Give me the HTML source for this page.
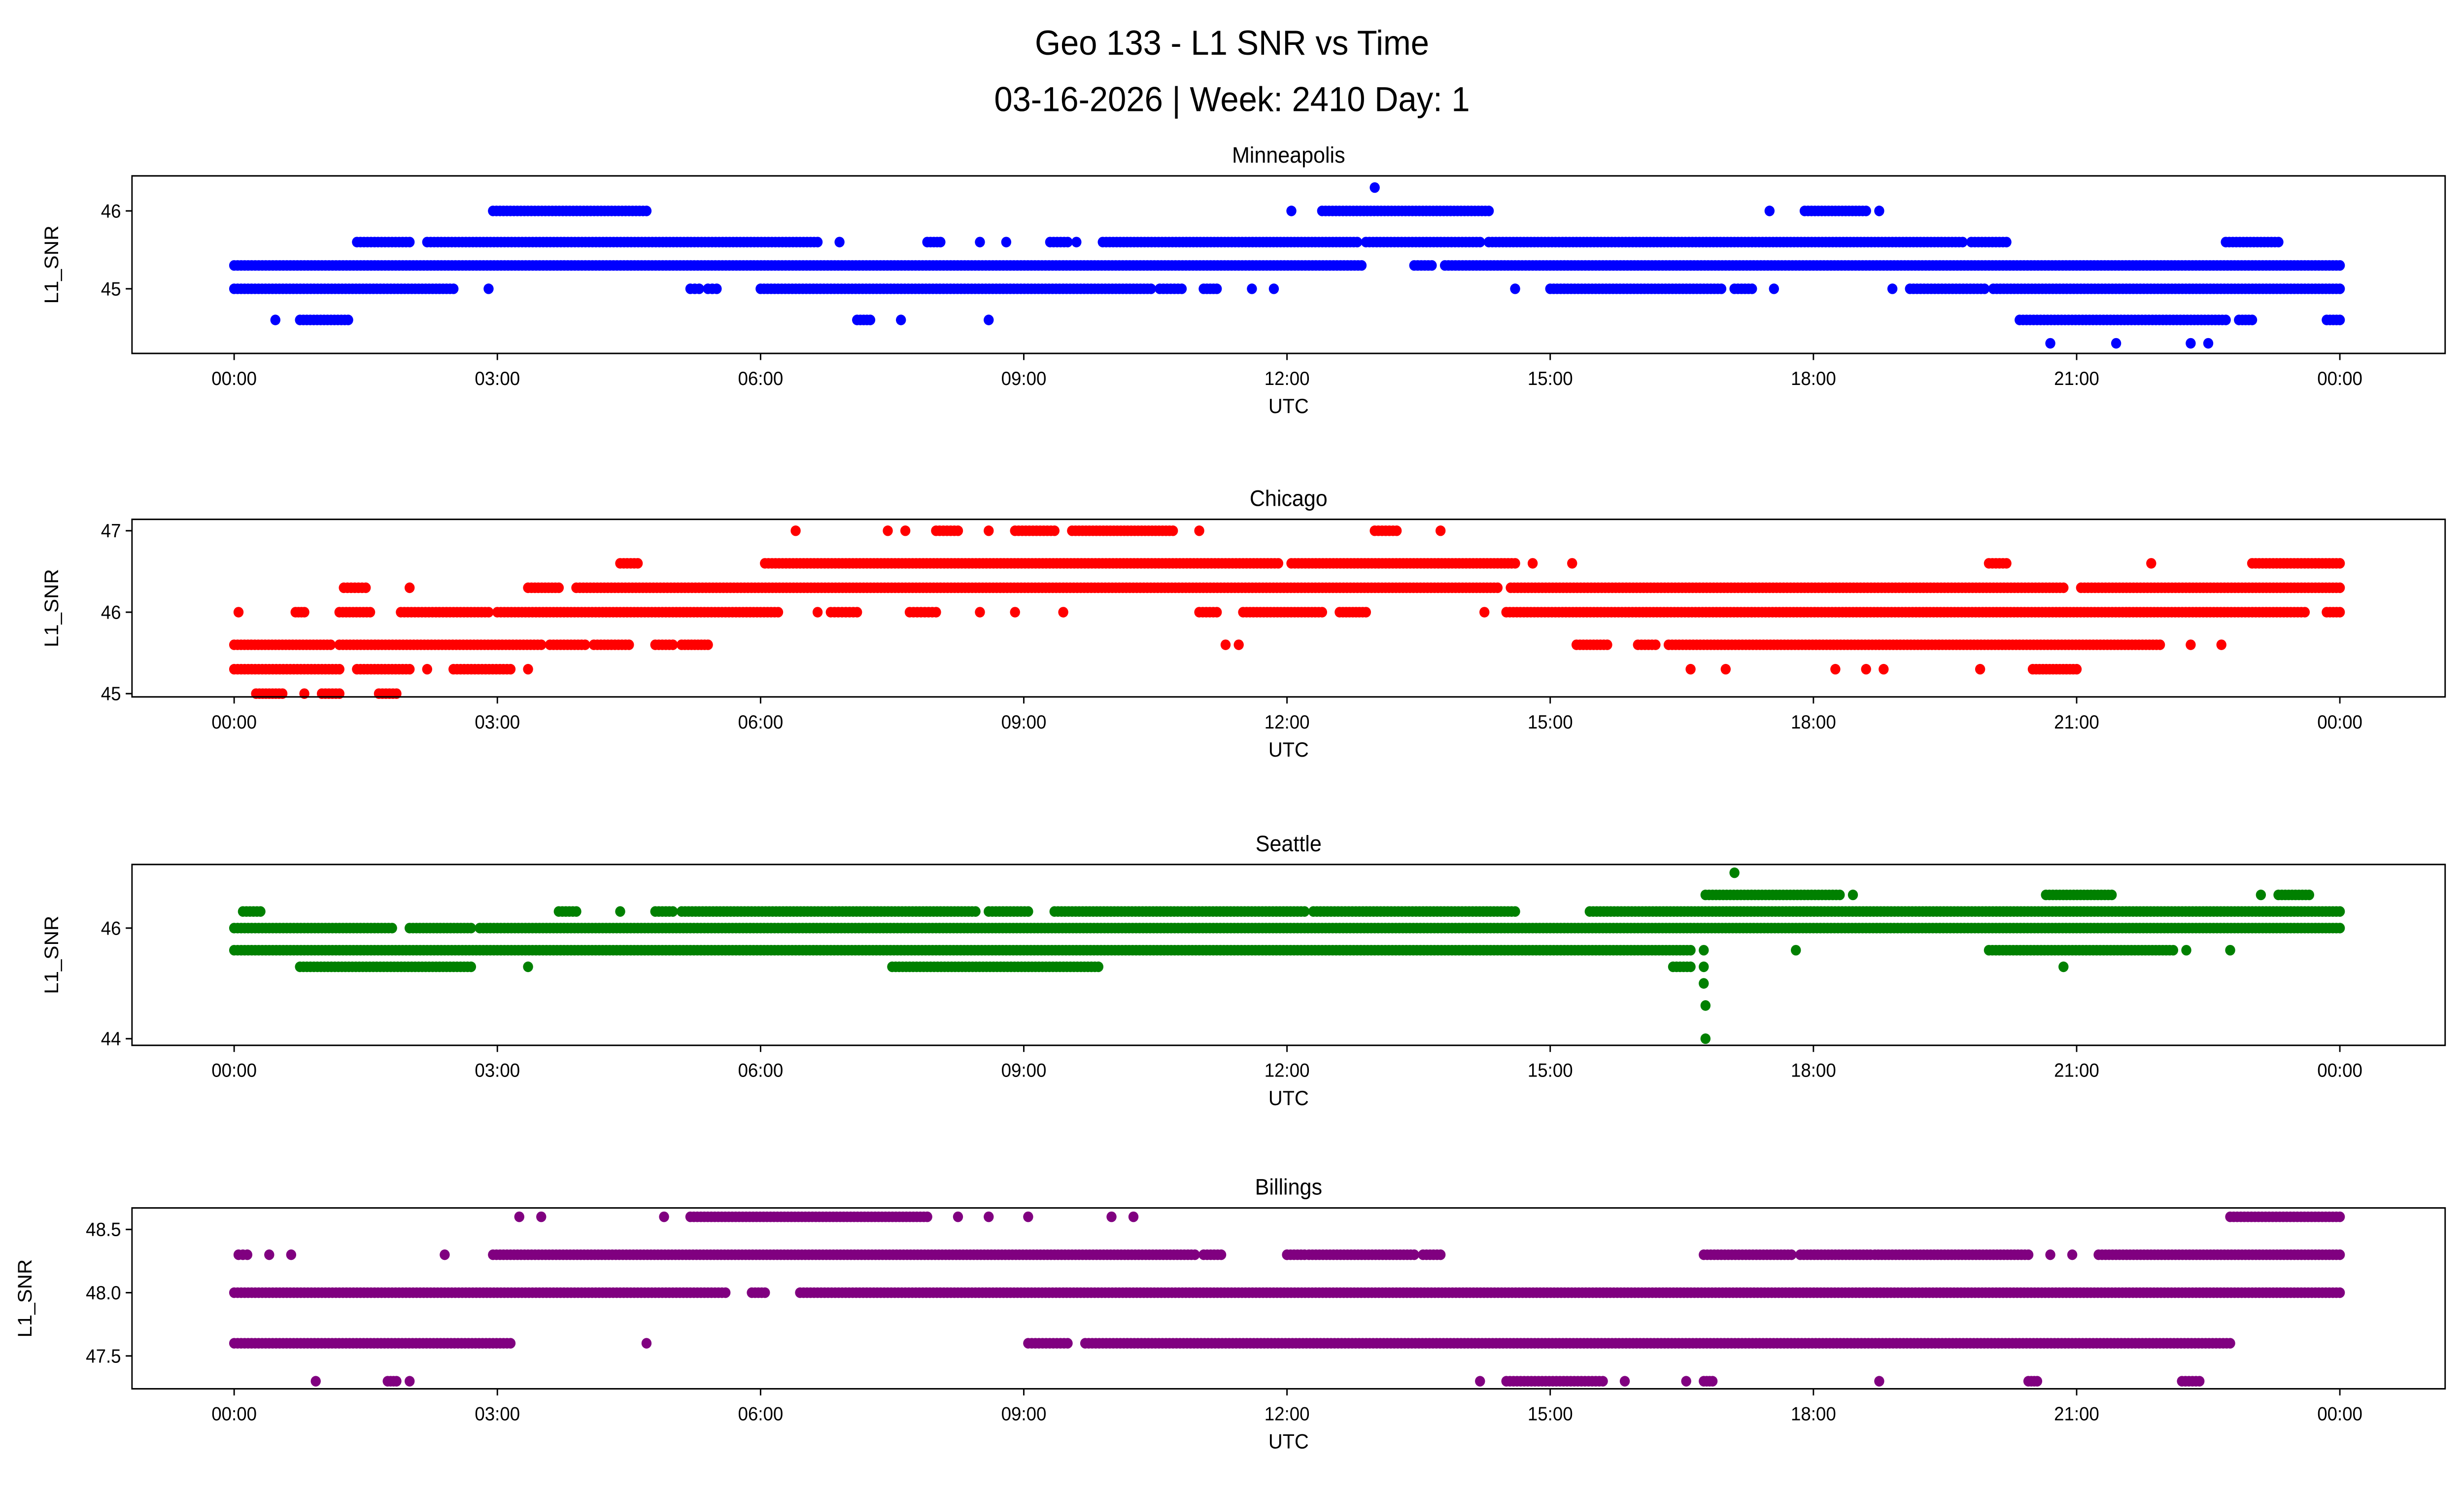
<!DOCTYPE html>
<html><head><meta charset="utf-8"><style>
html,body{margin:0;padding:0;background:#fff;overflow:hidden;width:100%;height:100%;}
svg{display:block;width:100vw;height:100vh;}
text{font-family:"Liberation Sans","DejaVu Sans",sans-serif;fill:#000;}
</style></head><body>
<svg id="chart" xmlns="http://www.w3.org/2000/svg" viewBox="0 0 1568 901" preserveAspectRatio="none">
<rect width="1568" height="901" fill="#fff"/>
<text x="784" y="33" font-size="21" text-anchor="middle">Geo 133 - L1 SNR vs Time</text>
<text x="784" y="67" font-size="21" text-anchor="middle">03-16-2026 | Week: 2410 Day: 1</text>
<g id="panels"></g>
</svg>
<script>
// Shared x tick labels (hours)
const xTickHours = [0,3,6,9,12,15,18,21,24];
const xTickLabels = ["00:00","03:00","06:00","09:00","12:00","15:00","18:00","21:00","00:00"];

// Minneapolis: segments [level, startHour, endHour], points [hour, level]
const minneapolisSegments = [[45.6,1.4,2.0],[45.6,2.2,6.65],[45.6,7.9,8.05],[45.6,9.3,9.5],[45.6,9.9,12.8],[45.6,12.9,14.2],[45.6,14.3,19.7],[45.6,19.8,20.2],[45.6,22.7,23.3],
[46.0,2.95,4.7],[46.0,12.4,14.3],[46.0,17.9,18.6],
[45.3,0,12.85],[45.3,13.45,13.65],[45.3,13.8,24],
[45.0,0,2.5],[45.0,5.2,5.3],[45.0,5.4,5.5],[45.0,6.0,10.45],[45.0,10.55,10.8],[45.0,11.05,11.2],[45.0,15.0,16.95],[45.0,17.1,17.3],[45.0,19.1,19.95],[45.0,20.05,24],
[44.6,0.75,1.3],[44.6,7.1,7.25],[44.6,20.35,22.7],[44.6,22.85,23.0],[44.6,23.85,24]];
const minneapolisPoints = [[6.9,45.6],[8.5,45.6],[8.8,45.6],[9.6,45.6],[12.05,46.0],[17.5,46.0],[18.75,46.0],[13.0,46.3],[2.9,45.0],[11.6,45.0],[11.85,45.0],[14.6,45.0],[17.55,45.0],[18.9,45.0],[0.47,44.6],[7.6,44.6],[8.6,44.6],[20.7,44.3],[21.45,44.3],[22.3,44.3],[22.5,44.3]];

const chicagoSegments = [[45.6,0,1.1],[45.6,1.2,3.5],[45.6,3.6,4.0],[45.6,4.1,4.5],[45.6,4.8,5.0],[45.6,5.1,5.4],[45.6,15.3,15.65],[45.6,16.0,16.2],[45.6,16.35,21.95],
[45.3,0,1.2],[45.3,1.4,2.0],[45.3,2.5,3.15],[45.3,20.5,21.0],
[45.0,0.25,0.55],[45.0,1.0,1.2],[45.0,1.65,1.85],
[46.0,0.7,0.8],[46.0,1.2,1.55],[46.0,1.9,2.9],[46.0,3.0,6.2],[46.0,6.8,7.1],[46.0,7.7,8.0],[46.0,11.0,11.2],[46.0,11.5,12.4],[46.0,12.6,12.9],[46.0,14.5,23.6],[46.0,23.85,24],
[46.3,1.25,1.5],[46.3,3.35,3.7],[46.3,3.9,14.4],[46.3,14.55,20.85],[46.3,21.05,24],
[46.6,4.4,4.6],[46.6,6.05,11.9],[46.6,12.05,14.6],[46.6,20.0,20.2],[46.6,23.0,24],
[47.0,8.0,8.25],[47.0,8.9,9.35],[47.0,9.55,10.7],[47.0,13.0,13.25]];
const chicagoPoints = [[0.05,46.0],[6.65,46.0],[8.5,46.0],[8.9,46.0],[9.45,46.0],[14.25,46.0],[2.0,46.3],[14.8,46.6],[15.25,46.6],[21.85,46.6],[6.4,47.0],[7.45,47.0],[7.65,47.0],[8.6,47.0],[11.0,47.0],[13.75,47.0],[22.3,45.6],[22.65,45.6],[2.2,45.3],[3.35,45.3],[16.6,45.3],[17.0,45.3],[18.25,45.3],[18.6,45.3],[18.8,45.3],[19.9,45.3],[0.8,45.0],[11.3,45.6],[11.45,45.6]];

const seattleSegments = [[46.0,0,1.8],[46.0,2.0,2.7],[46.0,2.8,24],
[46.3,0.1,0.3],[46.3,3.7,3.9],[46.3,4.8,5.0],[46.3,5.1,8.45],[46.3,8.6,9.05],[46.3,9.35,12.2],[46.3,12.3,14.6],[46.3,15.45,24],
[45.6,0,16.6],[45.6,20.0,22.1],
[45.3,0.75,2.7],[45.3,7.5,9.85],[45.3,16.4,16.6],
[46.6,16.77,18.3],[46.6,20.65,21.4],[46.6,23.3,23.65]];
const seattlePoints = [[4.4,46.3],[16.75,45.6],[17.8,45.6],[22.25,45.6],[22.75,45.6],[3.35,45.3],[20.85,45.3],[16.75,45.3],[16.75,45.0],[16.77,44.6],[16.77,44.0],[18.45,46.6],[23.1,46.6],[17.1,47.0]];

const billingsSegments = [[48.0,0,5.6],[48.0,5.9,6.05],[48.0,6.45,24],
[48.3,0.05,0.15],[48.3,2.95,10.95],[48.3,11.05,11.25],[48.3,12.0,12.2],[48.3,12.25,13.45],[48.3,13.55,13.75],[48.3,16.75,17.75],[48.3,17.85,18.65],[48.3,18.7,20.45],[48.3,21.25,24],
[48.6,5.2,7.9],[48.6,22.75,24],
[47.6,0,3.15],[47.6,9.05,9.5],[47.6,9.7,22.75],
[47.3,1.75,1.85],[47.3,14.5,15.6],[47.3,16.75,16.85],[47.3,20.45,20.55],[47.3,22.2,22.4]];
const billingsPoints = [[0.4,48.3],[0.65,48.3],[2.4,48.3],[12.0,48.3],[20.7,48.3],[20.95,48.3],[3.25,48.6],[3.5,48.6],[4.9,48.6],[8.25,48.6],[8.6,48.6],[9.05,48.6],[10.0,48.6],[10.25,48.6],[4.7,47.6],[0.93,47.3],[2.0,47.3],[14.2,47.3],[15.85,47.3],[16.55,47.3],[18.75,47.3]];

const panels = [
 {name:"minneapolis",title:"Minneapolis",color:"#0000ff",top:106,bottom:213,ymin:44.17,ymax:46.45,yticks:[45,46],ylabels:["45","46"],segs:minneapolisSegments,pts:minneapolisPoints,ylx:37},
 {name:"chicago",title:"Chicago",color:"#ff0000",top:313,bottom:420,ymin:44.96,ymax:47.14,yticks:[45,46,47],ylabels:["45","46","47"],segs:chicagoSegments,pts:chicagoPoints,ylx:37},
 {name:"seattle",title:"Seattle",color:"#008000",top:521,bottom:630,ymin:43.88,ymax:47.15,yticks:[44,46],ylabels:["44","46"],segs:seattleSegments,pts:seattlePoints,ylx:37},
 {name:"billings",title:"Billings",color:"#800080",top:728,bottom:837,ymin:47.24,ymax:48.67,yticks:[47.5,48.0,48.5],ylabels:["47.5","48.0","48.5"],segs:billingsSegments,pts:billingsPoints,ylx:20}
];
const NS="http://www.w3.org/2000/svg";
const L=84,R=1556;
function xs(h){return 149+(1489-149)*h/24;}
function mk(tag,attrs,parent){const e=document.createElementNS(NS,tag);for(const k in attrs)e.setAttribute(k,attrs[k]);parent.appendChild(e);return e;}
const root=document.getElementById('panels');
panels.forEach(p=>{
 const g=mk('g',{},root);
 
 
 const ys=v=>p.bottom-(v-p.ymin)/(p.ymax-p.ymin)*(p.bottom-p.top);
 const dots=mk('g',{fill:p.color},g);
 
 
 p.segs.forEach(s=>{
  const n=Math.max(1,Math.round((s[2]-s[1])/0.04));
  for(let i=0;i<=n;i++){
   const h=s[1]+(s[2]-s[1])*i/n;
   const c=mk('circle',{cx:xs(h).toFixed(2),cy:ys(s[0]).toFixed(2),r:3.2},dots);
   
   
  }
 });
 p.pts.forEach(s=>{
  const c=mk('circle',{cx:xs(s[0]).toFixed(2),cy:ys(s[1]).toFixed(2),r:3.2},dots);
  
  
 });
 const fr=mk('rect',{x:L,y:p.top,width:R-L,height:p.bottom-p.top,fill:'none',stroke:'#000','stroke-width':0.9},g);
 
 
 xTickHours.forEach((h,i)=>{
  mk('line',{x1:xs(h),x2:xs(h),y1:p.bottom,y2:p.bottom+4,stroke:'#000','stroke-width':0.9},g);
  const t=mk('text',{x:xs(h),y:p.bottom+19,'font-size':11.5,'text-anchor':'middle'},g);
  t.textContent=xTickLabels[i];
  
  
 });
 p.yticks.forEach((v,i)=>{
  mk('line',{x1:L-4,x2:L,y1:ys(v),y2:ys(v),stroke:'#000','stroke-width':0.9},g);
  const t=mk('text',{x:L-7,y:ys(v)+4,'font-size':11.5,'text-anchor':'end'},g);
  t.textContent=p.ylabels[i];
  
  
 });
 const tt=mk('text',{x:(L+R)/2,y:p.top-8,'font-size':13.5,'text-anchor':'middle'},g);
 tt.textContent=p.title;
 
 
 const xl=mk('text',{x:(L+R)/2,y:p.bottom+36,'font-size':12.5,'text-anchor':'middle'},g);
 xl.textContent='UTC';
 
 
 const cy=(p.top+p.bottom)/2;
 const yl=mk('text',{x:p.ylx,y:cy,'font-size':12.5,'text-anchor':'middle',transform:'rotate(-90 '+p.ylx+' '+cy+')'},g);
 yl.textContent='L1_SNR';
 
 
});
</script>
</body></html>
